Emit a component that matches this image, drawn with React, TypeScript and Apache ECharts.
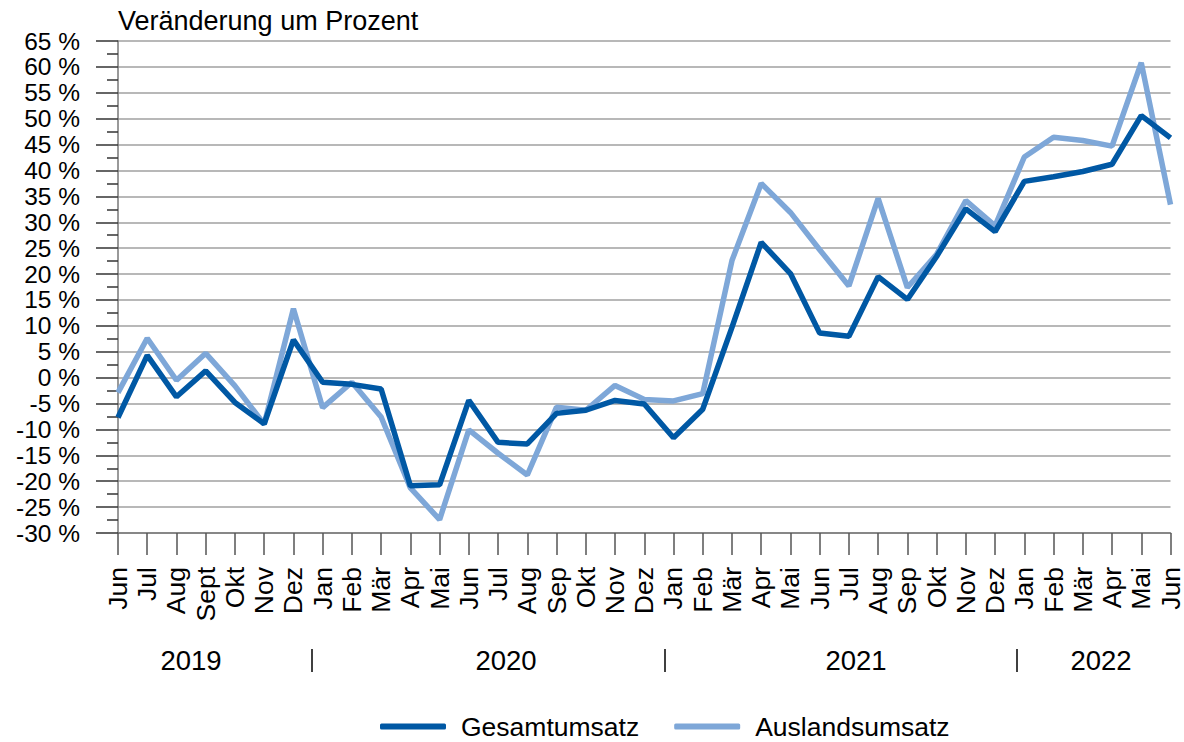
import React, { useEffect, useRef } from "react";
import * as echarts from "echarts";

const months = ["Jun","Jul","Aug","Sept","Okt","Nov","Dez","Jan","Feb","Mär","Apr","Mai","Jun","Jul","Aug","Sep","Okt","Nov","Dez","Jan","Feb","Mär","Apr","Mai","Jun","Jul","Aug","Sep","Okt","Nov","Dez","Jan","Feb","Mär","Apr","Mai","Jun"];

const gesamtumsatz = [-7.7, 4.3, -3.7, 1.3, -4.8, -8.9, 7.3, -0.9, -1.3, -2.2, -20.9, -20.7, -4.4, -12.5, -12.8, -6.9, -6.3, -4.4, -5.1, -11.6, -6.1, 9.7, 26.1, 20.1, 8.6, 8.0, 19.5, 15.1, 23.4, 32.6, 28.2, 37.9, 38.8, 39.8, 41.2, 50.6, 46.3];

const auslandsumsatz = [-2.9, 7.6, -0.5, 4.7, -1.6, -9.0, 13.3, -5.8, -0.9, -7.6, -21.3, -27.4, -10.1, -14.6, -18.8, -5.7, -6.3, -1.5, -4.2, -4.5, -3.1, 22.6, 37.5, 31.9, 24.7, 17.7, 34.6, 17.4, 23.8, 34.2, 29.3, 42.6, 46.4, 45.8, 44.7, 60.8, 33.4];

const years = ["2019", "2020", "2021", "2022"];
const yearX = [191, 506, 856, 1101];
const separatorX = [312, 665, 1017];

const DARK = "#0058a4";
const LIGHT = "#7ea7d8";
const FONT = "'Liberation Sans', Arial, sans-serif";

export default function App() {
  const ref = useRef<HTMLDivElement>(null);
  useEffect(() => {
    if (!ref.current) return;
    const chart = echarts.init(ref.current, undefined, { renderer: "svg" });
    const graphics: any[] = [
      {
        type: "text",
        left: 118,
        top: 7,
        style: { text: "Veränderung um Prozent", font: `27px ${FONT}`, fill: "#000" },
      },
    ];
    years.forEach((y, i) => {
      graphics.push({
        type: "text",
        x: yearX[i],
        y: 660,
        style: { text: y, font: `27.5px ${FONT}`, fill: "#000", align: "center", verticalAlign: "middle" },
      });
    });
    separatorX.forEach((x) => {
      graphics.push({
        type: "line",
        shape: { x1: x, y1: 649, x2: x, y2: 672 },
        style: { stroke: "#000", lineWidth: 1.5 },
      });
    });
    chart.setOption({
      animation: false,
      textStyle: { fontFamily: FONT },
      grid: { left: 118, right: 9, top: 41, bottom: 209, containLabel: false },
      legend: {
        top: 708,
        left: 375,
        itemWidth: 66,
        itemHeight: 6,
        itemGap: 35,
        icon: "roundRect",
        textStyle: { fontSize: 26.5, color: "#000", fontFamily: FONT, padding: [0, 0, 0, 10] },
        data: ["Gesamtumsatz", "Auslandsumsatz"],
      },
      xAxis: {
        type: "category",
        data: months,
        boundaryGap: false,
        axisLine: { onZero: false, lineStyle: { color: "#777", width: 1.5 } },
        axisTick: { show: true, length: 22, interval: 0, lineStyle: { color: "#555", width: 1.5 } },
        axisLabel: {
          interval: 0,
          rotate: 90,
          margin: 34,
          fontSize: 26.5,
          lineHeight: 24,
          color: "#000",
          fontFamily: FONT,
        },
        splitLine: { show: false },
      },
      yAxis: {
        type: "value",
        min: -30,
        max: 65,
        interval: 5,
        axisLine: { show: true, lineStyle: { color: "#777", width: 1.5 } },
        axisTick: { show: true, length: 22, lineStyle: { color: "#333", width: 1.5 } },
        minorTick: { show: true, splitNumber: 2, length: 11, lineStyle: { color: "#333", width: 1.5 } },
        axisLabel: {
          margin: 38,
          fontSize: 24.5,
          lineHeight: 22,
          showMinLabel: true,
          showMaxLabel: true,
          hideOverlap: false,
          color: "#000",
          fontFamily: FONT,
          formatter: (v: number) => `${v} %`,
        },
        splitLine: { show: true, lineStyle: { color: "#a0a0a0", width: 1.5 } },
      },
      series: [
        {
          name: "Gesamtumsatz",
          type: "line",
          data: gesamtumsatz,
          symbol: "none",
          lineStyle: { color: DARK, width: 5.5 },
          itemStyle: { color: DARK },
          z: 3,
        },
        {
          name: "Auslandsumsatz",
          type: "line",
          data: auslandsumsatz,
          symbol: "none",
          lineStyle: { color: LIGHT, width: 5.5 },
          itemStyle: { color: LIGHT },
          z: 2,
        },
      ],
      graphic: graphics,
    });
    return () => chart.dispose();
  }, []);
  return (
    <div
      ref={ref}
      style={{ position: "fixed", left: 0, top: 0, width: 1184, height: 742, background: "#fff" }}
    />
  );
}
